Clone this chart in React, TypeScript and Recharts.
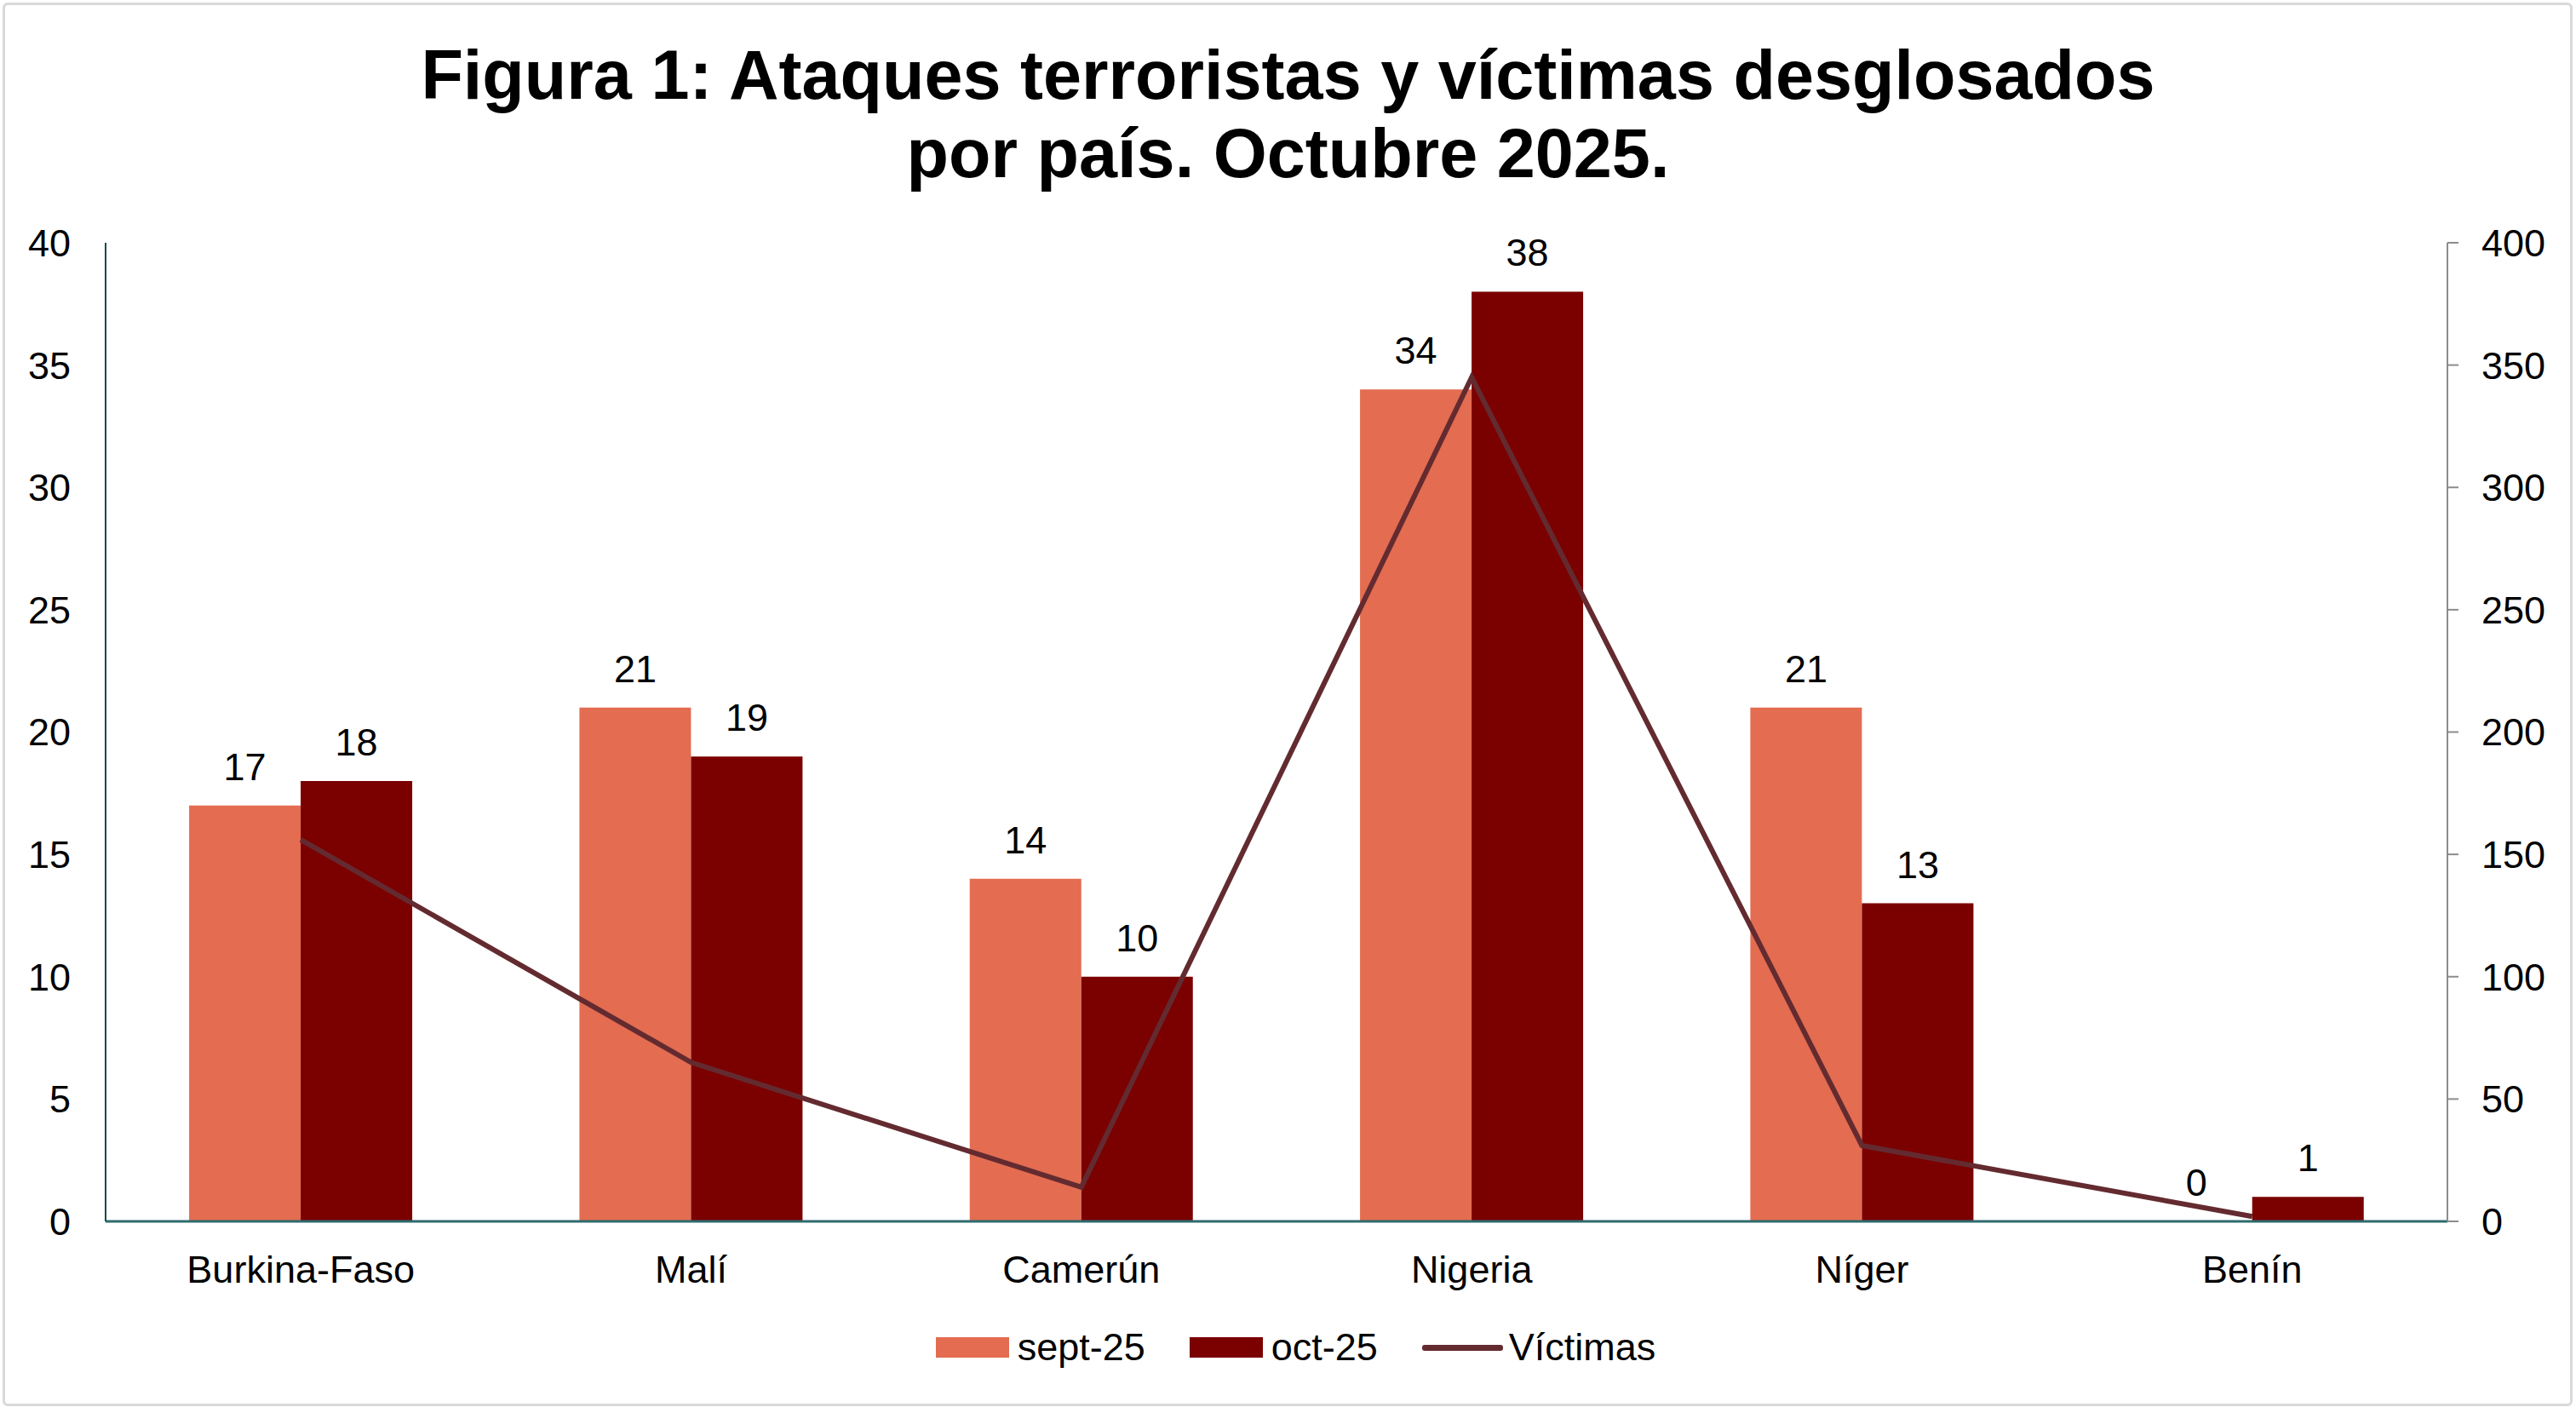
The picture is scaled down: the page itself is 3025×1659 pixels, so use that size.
import React from 'react';
import {
  ComposedChart,
  Bar,
  Line,
  XAxis,
  YAxis,
  Legend,
  LabelList,
} from 'recharts';

const COUNTRIES = ['Burkina-Faso', 'Malí', 'Camerún', 'Nigeria', 'Níger', 'Benín'];
const SEPT_25 = [17, 21, 14, 34, 21, 0];
const OCT_25 = [18, 19, 10, 38, 13, 1];
const VICTIMAS = [156, 65, 14, 345, 31, 2];

const LEFT_TICKS = [0, 5, 10, 15, 20, 25, 30, 35, 40];
const RIGHT_TICKS = [0, 50, 100, 150, 200, 250, 300, 350, 400];
const LEGEND_ORDER = ['sept-25', 'oct-25', 'Víctimas'];

const FONT = '"Liberation Sans", Arial, sans-serif';
const SEPT_COLOR = '#e36c51';
const OCT_COLOR = '#7b0000';
const LINE_COLOR = '#632b30';

const data = COUNTRIES.map((name, i) => ({
  name,
  sept: SEPT_25[i],
  oct: OCT_25[i],
  victimas: VICTIMAS[i],
}));

const tickStyle = { fontSize: 45, fill: '#000', fontFamily: FONT };

const renderLegend = ({ payload }: any) => {
  const items = [...(payload || [])].sort(
    (a: any, b: any) => LEGEND_ORDER.indexOf(a.value) - LEGEND_ORDER.indexOf(b.value)
  );
  return (
    <div
      style={{
        display: 'flex',
        justifyContent: 'center',
        alignItems: 'center',
        fontFamily: FONT,
        fontSize: 45,
        color: '#000',
        paddingLeft: 18,
      }}
    >
      {items.map((item: any, i: number) => (
        <div
          key={`legend-${i}`}
          style={{ display: 'flex', alignItems: 'center', marginRight: i < items.length - 1 ? 52 : 0 }}
        >
          {item.type === 'line' ? (
            <div style={{ width: 95, height: 7, background: item.color, borderRadius: 3, marginRight: 7 }} />
          ) : (
            <div style={{ width: 86, height: 24, background: item.color, marginRight: 10 }} />
          )}
          <span>{item.value}</span>
        </div>
      ))}
    </div>
  );
};

export default function App() {
  return (
    <div style={{ position: 'relative', width: 3025, height: 1659, background: '#fff' }}>
      <style>{'body{margin:0}'}</style>
      <div
        style={{
          position: 'absolute',
          left: 3,
          top: 3,
          width: 3018,
          height: 1648,
          border: '3px solid #d9d9d9',
          boxSizing: 'border-box',
          borderRadius: 6,
        }}
      />
      <div
        style={{
          position: 'absolute',
          top: 42,
          left: 0,
          width: 3025,
          textAlign: 'center',
          fontFamily: FONT,
          fontWeight: 'bold',
          fontSize: 81,
          lineHeight: '92px',
          color: '#000',
        }}
      >
        Figura 1: Ataques terroristas y víctimas desglosados
        <br />
        por país. Octubre 2025.
      </div>
      <ComposedChart
        width={3025}
        height={1659}
        data={data}
        margin={{ top: 285, right: 21, bottom: 145, left: 24 }}
        barCategoryGap="21.4%"
        barGap={0}
        style={{ position: 'absolute', top: 0, left: 0 }}
      >
        <XAxis
          dataKey="name"
          axisLine={{ stroke: '#2f6b6e', strokeWidth: 3 }}
          tickLine={false}
          tickSize={0}
          tickMargin={40}
          height={80}
          tick={tickStyle}
          interval={0}
        />
        <YAxis
          yAxisId="left"
          orientation="left"
          domain={[0, 40]}
          ticks={LEFT_TICKS}
          width={100}
          axisLine={{ stroke: '#17494d', strokeWidth: 2 }}
          tickLine={false}
          tickSize={0}
          tickMargin={41}
          tick={tickStyle}
          interval={0}
        />
        <YAxis
          yAxisId="right"
          orientation="right"
          domain={[0, 400]}
          ticks={RIGHT_TICKS}
          width={130}
          axisLine={{ stroke: '#8c8c8c', strokeWidth: 2 }}
          tickLine={{ stroke: '#8c8c8c', strokeWidth: 2 }}
          tickSize={13}
          tickMargin={27}
          tick={tickStyle}
          interval={0}
        />
        <Bar
          yAxisId="left"
          dataKey="sept"
          name="sept-25"
          fill={SEPT_COLOR}
          minPointSize={0.1}
          isAnimationActive={false}
        >
          <LabelList dataKey="sept" position="top" offset={30} style={tickStyle} />
        </Bar>
        <Bar yAxisId="left" dataKey="oct" name="oct-25" fill={OCT_COLOR} isAnimationActive={false}>
          <LabelList dataKey="oct" position="top" offset={30} style={tickStyle} />
        </Bar>
        <Line
          yAxisId="right"
          type="linear"
          dataKey="victimas"
          name="Víctimas"
          stroke={LINE_COLOR}
          strokeWidth={6}
          dot={false}
          activeDot={false}
          legendType="line"
          isAnimationActive={false}
        />
        <Legend
          verticalAlign="middle"
          align="center"
          content={renderLegend}
          wrapperStyle={{ top: 1556, left: 0, width: 3025, height: 56 }}
        />
      </ComposedChart>
    </div>
  );
}
